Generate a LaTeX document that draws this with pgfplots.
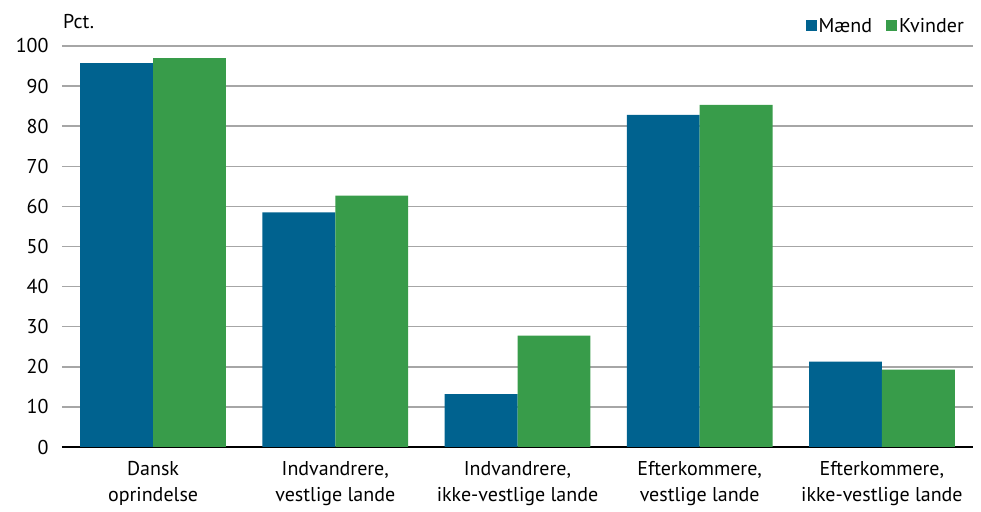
\documentclass[border=0pt]{standalone}
\usepackage{pgfplots}
\pgfplotsset{compat=1.18}
\usepackage{fontspec}
\setmainfont{PT Sans}
\definecolor{cblue}{HTML}{00628F}
\definecolor{cgreen}{HTML}{389C4A}
\definecolor{cgrid}{HTML}{A6A6A6}
\begin{document}
\begin{tikzpicture}[font=\fontsize{20bp}{23bp}\selectfont]
\begin{axis}[name=ax, scale only axis, width=911bp, height=401bp,
  xmin=-0.5, xmax=4.5, ymin=0, ymax=100,
  ybar=0pt, bar width=0.4,
  axis x line*=bottom, axis y line*=left,
  y axis line style={draw=none},
  x axis line style={black, line width=2.5bp, -},
  major tick length=0pt,
  ytick={0,10,...,100},
  ymajorgrids, grid style={cgrid, line width=1.5bp},
  xtick={0,1,2,3,4},
  xticklabels={{Dansk\\[3bp]oprindelse},{Indvandrere,\\[3bp]vestlige lande},{Indvandrere,\\[3bp]ikke-vestlige lande},{Efterkommere,\\[3bp]vestlige lande},{Efterkommere,\\[3bp]ikke-vestlige lande}},
  xticklabel style={align=center, yshift=-11bp},
  yticklabel style={xshift=-10bp},
  /pgf/number format/assume math mode=true,
  tick label style={font=\fontsize{20bp}{23bp}\selectfont},
  legend columns=2,
  legend style={at={(1,1)}, anchor=south east, yshift=8bp, xshift=-4bp, draw=none, fill=none,
    font=\fontsize{20bp}{23bp}\selectfont, /tikz/every even column/.append style={column sep=12bp}},
  legend image code/.code={\fill[#1] (0bp,-5bp) rectangle (11bp,6bp);},
]
\addplot[fill=cblue, draw=none] coordinates {(0,95.7) (1,58.5) (2,13.2) (3,82.8) (4,21.3)};
\addplot[fill=cgreen, draw=none] coordinates {(0,97.0) (1,62.7) (2,27.8) (3,85.3) (4,19.3)};
\legend{Mænd, Kvinder}
\end{axis}
\node[anchor=base west, inner sep=0pt] at ([shift={(1bp,17bp)}]ax.north west) {Pct.};
\pgfresetboundingbox
\path[use as bounding box] ([shift={(-62bp,-65bp)}]ax.south west) rectangle ([shift={(8bp,46bp)}]ax.north east);
\end{tikzpicture}
\end{document}
